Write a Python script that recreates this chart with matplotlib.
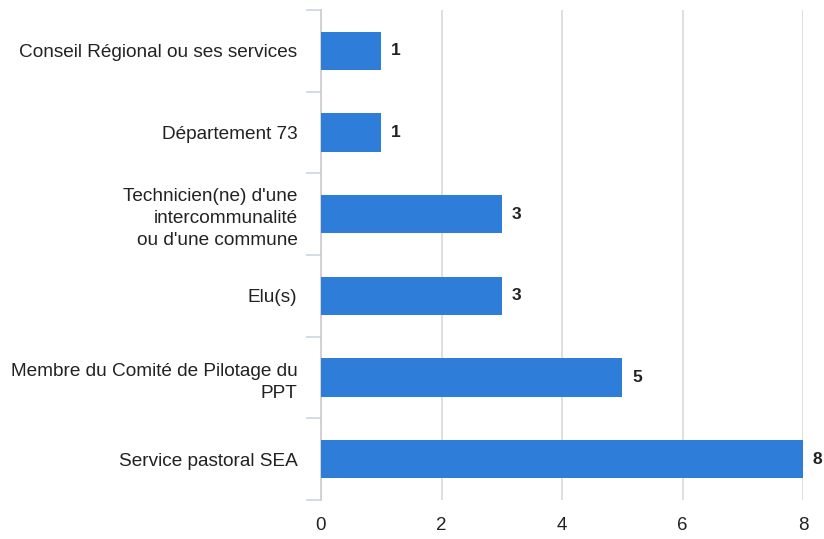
import matplotlib

matplotlib.use("Agg")

import matplotlib.pyplot as plt
import numpy as np

categories = [
    "Conseil Régional ou ses services",
    "Département 73",
    "Technicien(ne) d'une\nintercommunalité\nou d'une commune",
    "Elu(s)",
    "Membre du Comité de Pilotage du\nPPT",
    "Service pastoral SEA",
]
counts = [1, 1, 3, 3, 5, 8]
x_ticks = [0, 2, 4, 6, 8]

plt.rcParams["font.family"] = ["Liberation Sans", "DejaVu Sans"]

fig = plt.figure(figsize=(8.24, 5.39), dpi=100)
ax = fig.add_axes([321 / 824, 39 / 539, 482 / 824, 490 / 539])

y = np.arange(len(categories))
ax.barh(y, counts, height=0.47, color="#2E7DD8", zorder=3)

for yi, v in zip(y, counts):
    ax.annotate(str(v), (v, yi), xytext=(7, 0), textcoords="offset points",
                va="center", ha="left", fontsize=12.5, fontweight="bold", color="#222222")

ax.set_ylim(len(categories) - 0.5, -0.5)
ax.set_xlim(0, 8)
ax.set_xticks(x_ticks)
ax.set_yticks(y)
ax.set_yticklabels(categories, fontsize=13.7, color="#222222", linespacing=1.4)
ax.set_yticks(np.arange(len(categories) + 1) - 0.5, minor=True)

ax.tick_params(axis="y", which="major", length=0, pad=17)
ax.tick_params(axis="y", which="minor", length=11, width=1.2, color="#CCD6E6")
ax.tick_params(axis="x", length=0, pad=12, labelsize=13.5, labelcolor="#222222")

for s in ["top", "right", "bottom"]:
    ax.spines[s].set_visible(False)
ax.spines["left"].set_color("#CCCCCC")
ax.spines["left"].set_linewidth(1.2)

ax.grid(axis="x", color="#D9D9D9", linewidth=1.2, zorder=0)
ax.set_axisbelow(True)

fig.savefig("out.png", dpi=100)
plt.close(fig)
